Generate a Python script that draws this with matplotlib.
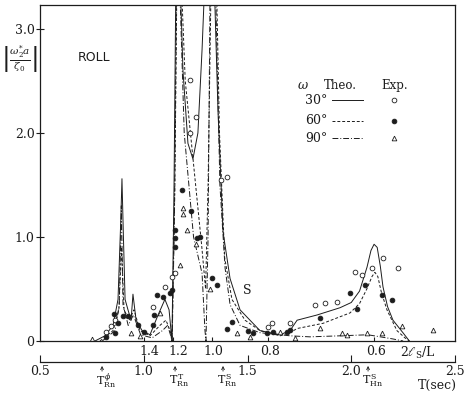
import numpy as np
import matplotlib.pyplot as plt

# ---- theoretical curves (T in sec, roll amplitude) ----
t30 = [0.765, 0.813, 0.852, 0.876, 0.890, 0.895, 0.902, 0.910, 0.924, 0.939, 0.948, 0.963,
       0.992, 1.030, 1.069, 1.102, 1.122, 1.136, 1.146, 1.155, 1.175, 1.189, 1.213, 1.237,
       1.261, 1.281, 1.295, 1.339, 1.358, 1.382, 1.416, 1.464, 1.560, 1.657, 1.705, 1.739,
       1.835, 1.946, 2.000, 2.040, 2.076, 2.095, 2.110, 2.125, 2.140, 2.153, 2.175, 2.201,
       2.249, 2.280]
y30 = [0.0, 0.05, 0.15, 0.4, 1.2, 1.56, 1.0, 0.4, 0.3, 0.2, 0.45, 0.2,
       0.1, 0.06, 0.25, 0.4, 0.3, 0.0, 1.5, 3.5, 3.5, 2.6, 1.9, 1.75,
       2.0, 2.8, 3.5, 3.5, 2.2, 1.05, 0.6, 0.3, 0.1, 0.06, 0.1, 0.2,
       0.25, 0.32, 0.37, 0.48, 0.71, 0.87, 0.93, 0.90, 0.72, 0.52, 0.33, 0.2,
       0.08, 0.0]

t60 = [0.789, 0.852, 0.880, 0.893, 0.905, 0.930, 0.953, 0.982, 1.030, 1.078, 1.107, 1.127,
       1.136, 1.150, 1.160, 1.180, 1.200, 1.250, 1.280, 1.298, 1.310, 1.325, 1.350, 1.365,
       1.390, 1.425, 1.488, 1.560, 1.657, 1.705, 1.739, 1.864, 1.994, 2.040, 2.075, 2.100,
       2.114, 2.128, 2.145, 2.172, 2.220, 2.259, 2.280]
y60 = [0.0, 0.1, 0.3, 0.9, 0.3, 0.2, 0.3, 0.1, 0.05, 0.15, 0.2, 0.1,
       0.0, 1.5, 3.5, 3.5, 2.5, 1.5, 0.9, 0.5, 1.5, 3.5, 3.5, 2.0,
       0.8, 0.4, 0.2, 0.1, 0.05, 0.08, 0.12, 0.17, 0.27, 0.36, 0.50, 0.62,
       0.66, 0.62, 0.47, 0.3, 0.1, 0.03, 0.0]

t90 = [0.800, 0.862, 0.882, 0.892, 0.900, 0.925, 0.950, 0.985, 1.040, 1.090, 1.115, 1.130,
       1.137, 1.148, 1.158, 1.172, 1.195, 1.240, 1.281, 1.295, 1.300, 1.310, 1.320, 1.345,
       1.367, 1.392, 1.416, 1.464, 1.560, 1.705, 1.800, 1.950, 2.080, 2.140, 2.200, 2.250]
y90 = [0.0, 0.1, 0.35, 1.3, 0.35, 0.15, 0.25, 0.06, 0.03, 0.1, 0.15, 0.05,
       0.0, 1.2, 3.5, 3.5, 2.0, 1.0, 0.65, 0.1, 0.0, 1.0, 3.5, 3.5,
       1.5, 0.7, 0.35, 0.15, 0.08, 0.05, 0.04, 0.05, 0.06, 0.04, 0.02, 0.0]

# ---- experiments ----
e30_t = [0.818, 0.842, 0.861, 1.045, 1.102, 1.136, 1.151, 1.223, 1.252, 1.223, 1.370,
         1.401, 1.599, 1.618, 1.705, 1.825, 1.873, 1.931, 2.018, 2.052, 2.100, 2.153, 2.225]
e30_y = [0.087, 0.14, 0.20, 0.33, 0.52, 0.62, 0.65, 2.51, 2.15, 2.00, 1.55,
         1.58, 0.13, 0.17, 0.17, 0.35, 0.365, 0.375, 0.66, 0.63, 0.70, 0.80, 0.70]

e60_t = [0.818, 0.861, 0.857, 0.876, 0.900, 0.924, 0.972, 1.001, 1.045, 1.049, 1.064, 1.093,
         1.127, 1.136, 1.151, 1.151, 1.151, 1.184, 1.228, 1.257, 1.271, 1.329, 1.353, 1.425,
         1.401, 1.502, 1.527, 1.594, 1.623, 1.690, 1.705, 1.849, 1.994, 2.028, 2.066, 2.148, 2.196]
e60_y = [0.04, 0.077, 0.26, 0.17, 0.24, 0.24, 0.15, 0.087, 0.15, 0.25, 0.44, 0.42,
         0.46, 0.49, 1.07, 0.99, 0.90, 1.45, 1.25, 0.99, 1.00, 0.61, 0.54, 0.18,
         0.115, 0.096, 0.077, 0.077, 0.087, 0.087, 0.105, 0.22, 0.46, 0.31, 0.54, 0.44, 0.39]

e90_t = [0.751, 0.939, 0.982, 1.078, 1.189, 1.189, 1.208, 1.175, 1.252, 1.319, 1.449, 1.512,
         1.657, 1.729, 1.849, 1.955, 1.980, 2.076, 2.148, 2.245, 2.394]
e90_y = [0.02, 0.077, 0.048, 0.27, 1.28, 1.22, 1.07, 0.73, 0.93, 0.50, 0.08, 0.038,
         0.087, 0.029, 0.125, 0.077, 0.058, 0.077, 0.077, 0.14, 0.11]

# upper scale 2ls/L
sls_labels = ['1.4', '1.2', '1.0', '0.8', '0.6']
sls_label_t = [1.025, 1.165, 1.334, 1.608, 2.119]
sls_tick_t = [1.0, 1.14, 1.33, 1.60, 2.11]

# natural periods marked under the T axis
period_t = [0.799, 1.151, 1.382, 2.081]
period_labels = [r'$\mathrm{T}_{\mathrm{Rn}}^{\,\phi}$', r'$\mathrm{T}_{\mathrm{Rn}}^{\,\mathrm{T}}$',
                 r'$\mathrm{T}_{\mathrm{Rn}}^{\,\mathrm{S}}$', r'$\mathrm{T}_{\mathrm{Hn}}^{\,\mathrm{S}}$']

plt.rcParams['font.family'] = 'DejaVu Serif'
plt.rcParams['mathtext.fontset'] = 'dejavuserif'
ink = '#1c1c1c'

fig = plt.figure(figsize=(4.72, 3.94), dpi=100)
ax = fig.add_axes([40/472, 1 - 341/394, 415/472, 336/394])

styles = {'30': '-', '60': (0, (3, 2)), '90': (0, (6, 2, 1, 2))}
ax.plot(t30, y30, color=ink, lw=0.7, ls=styles['30'])
ax.plot(t60, y60, color=ink, lw=0.7, ls=styles['60'])
ax.plot(t90, y90, color=ink, lw=0.7, ls=styles['90'])

ms = 3.4
ax.plot(e30_t, e30_y, 'o', ms=ms, mfc='white', mec=ink, mew=0.6)
ax.plot(e60_t, e60_y, 'o', ms=ms, mfc=ink, mec=ink, mew=0.6)
ax.plot(e90_t, e90_y, '^', ms=ms, mfc='white', mec=ink, mew=0.6)

ax.set_xlim(0.5, 2.5)
ax.set_ylim(0, 3.23)
for s in ax.spines.values():
    s.set_linewidth(0.9)
    s.set_color(ink)

ax.set_yticks([0, 1, 2, 3], ['0', '1.0', '2.0', '3.0'])
ax.tick_params(axis='y', direction='inout', length=6, width=0.8, labelsize=9, pad=1, colors=ink)
ax.set_xticks(sls_label_t + [2.322], sls_labels + [r'$2\ell_{\mathrm{S}}/\mathrm{L}$'])
ax.set_xticks(sls_tick_t, minor=True)
ax.tick_params(axis='x', which='major', length=0, pad=3, labelsize=9, colors=ink)
ax.tick_params(axis='x', which='minor', direction='in', length=3, width=0.8, colors=ink)

# T(sec) scale below
sec = ax.secondary_xaxis(-0.0625)
sec.set_xticks([0.5, 1.0, 1.5, 2.0, 2.5], ['0.5', '1.0', '1.5', '2.0', '2.5'])
sec.tick_params(direction='in', length=5, width=0.8, labelsize=9, pad=2, colors=ink)
sec.spines['bottom'].set_linewidth(0.9)
sec.spines['bottom'].set_color(ink)

tr = ax.get_xaxis_transform()
for t, lab in zip(period_t, period_labels):
    ax.annotate('', xy=(t, -0.066), xytext=(t, -0.098), xycoords=tr, textcoords=tr,
                arrowprops=dict(arrowstyle='->', lw=0.6, color=ink, mutation_scale=5))
    ax.text(t + 0.02, -0.118, lab, transform=tr, ha='center', va='center', fontsize=8, color=ink)
ax.text(0.957, -0.131, 'T(sec)', transform=ax.transAxes, ha='center', va='center',
        fontsize=9, color=ink)

# labels inside
ax.text(0.092, 0.845, 'ROLL', transform=ax.transAxes, ha='left', va='center',
        fontsize=9, family='DejaVu Sans', color=ink)
ax.text(-0.05, 0.84, r'$\left|\frac{\omega_2^{*}a}{\zeta_0}\right|$', transform=ax.transAxes,
        ha='center', va='center', fontsize=10.5, color=ink)
ax.text(1.498, 0.49, 'S', ha='center', va='center', fontsize=9, color=ink)

# legend table
ax.text(0.634, 0.759, r'$\omega$', transform=ax.transAxes, ha='center', va='center', fontsize=9, color=ink)
ax.text(0.723, 0.759, 'Theo.', transform=ax.transAxes, ha='center', va='center', fontsize=8.5, color=ink)
ax.text(0.855, 0.759, 'Exp.', transform=ax.transAxes, ha='center', va='center', fontsize=8.5, color=ink)
rows = [('30°', styles['30'], 'o', 'white'), ('60°', styles['60'], 'o', ink), ('90°', styles['90'], '^', 'white')]
for yy, (lab, ls, mk, fc) in zip([0.717, 0.655, 0.604], rows):
    ax.text(0.665, yy, lab, transform=ax.transAxes, ha='center', va='center', fontsize=9, color=ink)
    ax.plot([0.703, 0.778], [yy, yy], transform=ax.transAxes, color=ink, lw=0.7, ls=ls)
    ax.plot([0.853], [yy], mk, transform=ax.transAxes, ms=ms, mfc=fc, mec=ink, mew=0.6)

fig.savefig('out.png', dpi=100)
